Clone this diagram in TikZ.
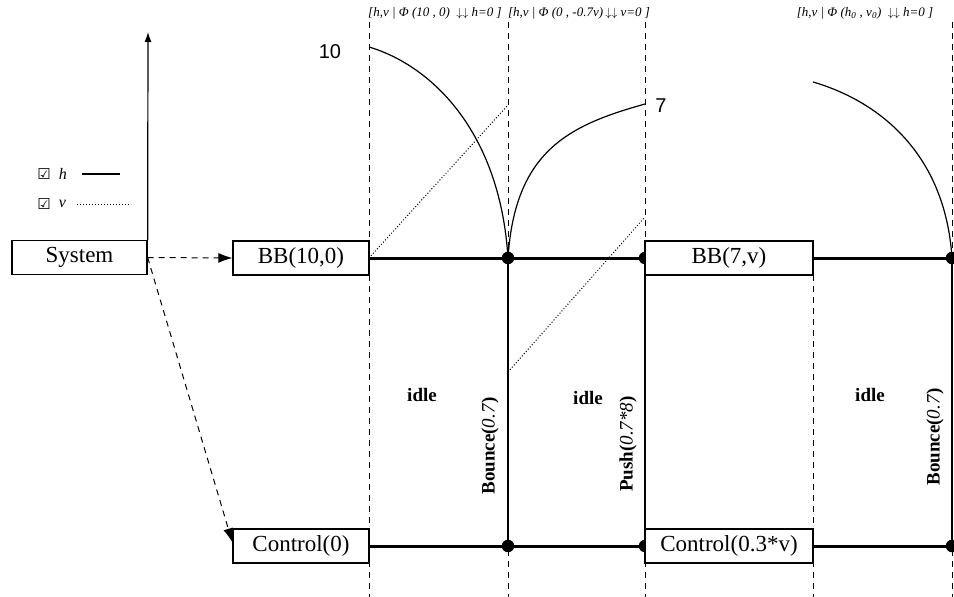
\documentclass[tikz,border=0pt]{standalone}
\usepackage{fontspec}
\setmainfont{Liberation Serif}
\newfontfamily\numfont{Liberation Sans}
\newfontfamily\boxfont{DejaVu Sans}
\usetikzlibrary{arrows.meta, positioning}

\begin{document}
\begin{tikzpicture}[x=1pt, y=-1pt, box/.style={draw, line width=1.3pt, fill=white, minimum height=34pt, inner sep=0pt, font=\fontsize{23}{25}\selectfont}, track/.style={line width=3pt}, sync/.style={line width=1.6pt}, grid/.style={dash pattern=on 6pt off 5pt, line width=0.8pt}, dot/.style={circle, fill, inner sep=0pt, minimum size=12.5pt}, idle/.style={font=\fontsize{19}{21}\selectfont\bfseries}, event/.style={rotate=90, font=\fontsize{19}{21}\selectfont\bfseries}, guard/.style={font=\fontsize{13}{15}\selectfont\itshape}, curve/.style={line width=1.2pt}]
  \useasboundingbox (0,0) rectangle (954,597);
  % time lines
  \foreach \x in {369,508,645,952}
    \draw[grid] (\x,22) -- (\x,597);
  \draw[grid] (813,275) -- (813,597);
  \coordinate (b1) at (508,258);
  \coordinate (b2) at (645,258);
  \coordinate (b3) at (952,258);
  \coordinate (c1) at (508,546);
  \coordinate (c2) at (645,546);
  \coordinate (c3) at (952,546);
  \coordinate (top) at (148,32);
  % h and v
  \draw[curve] (369,47) .. controls (430,65) and (500,130) .. (b1);
  \draw[curve] (b1) .. controls (515,150) and (570,125) .. (645,104);
  \draw[curve] (813,82) .. controls (875,100) and (945,150) .. (b3);
  \draw[dotted, line width=1pt] (369,258) -- (508,105);
  \draw[dotted, line width=1pt] (508,372) -- (645,217);
  \node[font=\fontsize{20}{22}\selectfont\numfont] (hten) at (330,52) {10};
  \node[font=\fontsize{20}{22}\selectfont\numfont] (hseven) at (661,106) {7};
  % components
  \draw[sync] (b1) -- (c1);
  \draw[sync] (b2) -- (c2);
  \draw[sync] (b3) -- (c3);
  \foreach \p in {b1,b2,b3,c1,c2,c3}
    \node[dot] at (\p) {};
  \node[box, minimum width=135pt] (sys) at (79.5,257.5) {System};
  \node[box, minimum width=136pt] (bb1) at (301,258) {BB(10,0)};
  \node[box, minimum width=136pt] (ctl1) at (301,546) {Control(0)};
  \node[box, minimum width=168pt] (bb2) at (729,258) {BB(7,v)};
  \node[box, minimum width=168pt] (ctl2) at (729,546) {Control(0.3*v)};
  \draw[track] (bb1.east) -- (b1) -- (b2);
  \draw[track] (ctl1.east) -- (c1) -- (c2);
  \draw[track] (bb2.east) -- (b3);
  \draw[track] (ctl2.east) -- (c3);
  \draw[line width=1.2pt, -{Latex[length=10pt, width=7pt]}] (sys.north east) -- (top);
  \draw[grid, line width=1pt, -{Latex[length=14pt, width=10pt]}] (sys.east) -- (bb1.west);
  \draw[grid, line width=1pt, -{Latex[length=14pt, width=10pt]}] (sys.east) -- ([yshift=-14pt]ctl1.north west);
  % legend
  \node[font=\fontsize{15}{16}\selectfont\boxfont] (hbox) at (44,174) {☑};
  \node[font=\fontsize{15}{16}\selectfont\boxfont] (vbox) at (44,204) {☑};
  \node[font=\fontsize{16}{18}\selectfont\itshape, right=1pt of hbox] (hkey) {h};
  \node[font=\fontsize{16}{18}\selectfont\itshape, right=1pt of vbox] (vkey) {v};
  \draw[line width=1.2pt] ([xshift=12pt]hkey.east) -- ++(38,0);
  \draw[dotted, line width=1pt] ([xshift=8pt]vkey.east) -- ++(54,0);
  % labels
  \node[idle] (idle1) at (422,395) {idle};
  \node[idle] (idle2) at (588,398) {idle};
  \node[idle] (idle3) at (870,395) {idle};
  \node[event] (bounce1) at (490,446) {Bounce(\textit{\mdseries 0.7})};
  \node[event] (push) at (628,444) {Push(\textit{\mdseries 0.7*8})};
  \node[event] (bounce2) at (935,437) {Bounce(\textit{\mdseries 0.7})};
  \node[guard] (g1) at (435,13) {[h,v | Φ (10 , 0)\enspace$\downarrow\downarrow$ h=0 ]};
  \node[guard] (g2) at (579,13) {[h,v | Φ (0 , -0.7v)\,$\downarrow\downarrow$ v=0 ]};
  \node[guard] (g3) at (865,13) {[h,v | Φ (h\textsubscript{0} , v\textsubscript{0})\enspace$\downarrow\downarrow$ h=0 ]};
\end{tikzpicture}
\end{document}
